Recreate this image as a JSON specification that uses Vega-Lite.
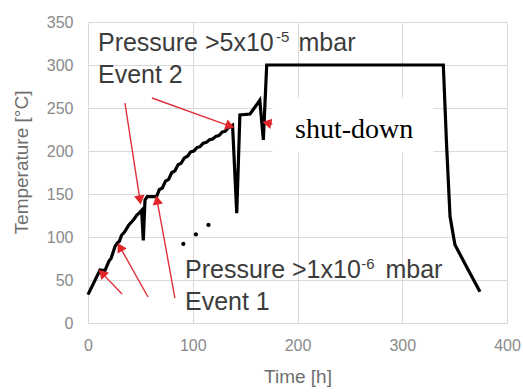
{
  "$schema": "https://vega.github.io/schema/vega-lite/v6.json",
  "width": 419,
  "height": 301,
  "autosize": {"type": "none"},
  "padding": {"left": 88, "top": 22, "right": 16, "bottom": 69},
  "background": "white",
  "config": {
    "view": {"stroke": null},
    "axis": {
      "grid": true,
      "gridColor": "#d9d9d9",
      "gridWidth": 1,
      "domain": false,
      "ticks": false,
      "labelFlush": false,
      "labelOverlap": false,
      "labelFont": "Liberation Sans",
      "labelFontSize": 16,
      "labelColor": "#8a8a8a",
      "titleFont": "Liberation Sans",
      "titleFontSize": 19,
      "titleFontWeight": "normal",
      "titleColor": "#6e6e6e"
    }
  },
  "datasets": {
    "curve": [
      {"t": 0, "temp": 33}, {"t": 11.5, "temp": 61.6}, {"t": 16.2, "temp": 61},
      {"t": 20, "temp": 72}, {"t": 22, "temp": 75}, {"t": 25.8, "temp": 89},
      {"t": 28, "temp": 93}, {"t": 30, "temp": 95}, {"t": 32, "temp": 102},
      {"t": 35, "temp": 106}, {"t": 37, "temp": 110}, {"t": 39, "temp": 114},
      {"t": 42, "temp": 118}, {"t": 44, "temp": 121}, {"t": 47, "temp": 126},
      {"t": 49, "temp": 128}, {"t": 51.2, "temp": 131}, {"t": 52.8, "temp": 96},
      {"t": 54.4, "temp": 143}, {"t": 56.6, "temp": 147}, {"t": 65.5, "temp": 147},
      {"t": 68, "temp": 155}, {"t": 71, "temp": 157}, {"t": 74, "temp": 165},
      {"t": 77, "temp": 167}, {"t": 80, "temp": 175}, {"t": 83, "temp": 177},
      {"t": 86, "temp": 184}, {"t": 89, "temp": 186}, {"t": 92, "temp": 192},
      {"t": 95, "temp": 194}, {"t": 98, "temp": 199}, {"t": 101, "temp": 200},
      {"t": 104, "temp": 204}, {"t": 107, "temp": 205}, {"t": 110, "temp": 209},
      {"t": 113, "temp": 210}, {"t": 116, "temp": 213}, {"t": 119, "temp": 214},
      {"t": 122, "temp": 217}, {"t": 125, "temp": 218}, {"t": 128, "temp": 222},
      {"t": 131, "temp": 223}, {"t": 134, "temp": 227}, {"t": 138, "temp": 230},
      {"t": 142, "temp": 127.6}, {"t": 145, "temp": 242}, {"t": 154.7, "temp": 243},
      {"t": 164, "temp": 259}, {"t": 167.4, "temp": 213}, {"t": 170.6, "temp": 300},
      {"t": 339.2, "temp": 300}, {"t": 342.4, "temp": 205}, {"t": 345.6, "temp": 124},
      {"t": 350.3, "temp": 91}, {"t": 362, "temp": 64}, {"t": 374.2, "temp": 36.4}
    ],
    "dots": [
      {"t": 91, "temp": 92}, {"t": 103, "temp": 103}, {"t": 115, "temp": 114}
    ],
    "arrows": [
      {"x0": 32.5, "y0": 33.7, "x1": 13.4, "y1": 58, "angle": 316},
      {"x0": 57.3, "y0": 30.2, "x1": 30.5, "y1": 88.4, "angle": 331},
      {"x0": 83, "y0": 29, "x1": 65.9, "y1": 143, "angle": 350},
      {"x0": 35.3, "y0": 255.8, "x1": 49.6, "y1": 143, "angle": 171},
      {"x0": 61, "y0": 261.6, "x1": 135.6, "y1": 229, "angle": 109},
      {"x0": 193.7, "y0": 227, "x1": 170.8, "y1": 232.6, "angle": 282}
    ],
    "box": [{"xa": 176, "xb": 330, "ya": 198, "yb": 262}],
    "labels": [
      {"x": 9.5, "y": 316.3, "text": "Pressure >5x10"},
      {"x": 201, "y": 316.3, "text": "mbar"},
      {"x": 9.5, "y": 279, "text": "Event 2"},
      {"x": 92.6, "y": 52.3, "text": "Pressure >1x10"},
      {"x": 284, "y": 52.3, "text": "mbar"},
      {"x": 92.6, "y": 15.1, "text": "Event 1"}
    ],
    "sups": [
      {"x": 179.5, "y": 326.7, "text": "-5"},
      {"x": 260.8, "y": 62.8, "text": "-6"}
    ],
    "serif": [{"x": 197.6, "y": 215.1, "text": "shut-down"}]
  },
  "layer": [
    {
      "data": {"name": "curve"},
      "mark": {"type": "line", "color": "black", "strokeWidth": 3.2, "strokeJoin": "miter"},
      "encoding": {
        "x": {"field": "t", "type": "quantitative", "scale": {"domain": [0, 400], "nice": false}, "axis": {"values": [0, 100, 200, 300, 400], "title": "Time [h]", "labelPadding": 14, "titlePadding": 14}},
        "y": {"field": "temp", "type": "quantitative", "scale": {"domain": [0, 350], "nice": false}, "axis": {"values": [0, 50, 100, 150, 200, 250, 300, 350], "title": "Temperature [°C]", "labelPadding": 15, "titleX": -67, "titleY": 140, "titleAngle": 270, "titleAlign": "center", "titleBaseline": "middle"}}
      }
    },
    {
      "data": {"name": "dots"},
      "mark": {"type": "point", "filled": true, "color": "black", "size": 18, "opacity": 1},
      "encoding": {
        "x": {"field": "t", "type": "quantitative"},
        "y": {"field": "temp", "type": "quantitative"}
      }
    },
    {
      "data": {"name": "arrows"},
      "mark": {"type": "rule", "color": "#e0303a", "strokeWidth": 1.4},
      "encoding": {
        "x": {"field": "x0", "type": "quantitative"},
        "y": {"field": "y0", "type": "quantitative"},
        "x2": {"field": "x1"},
        "y2": {"field": "y1"}
      }
    },
    {
      "data": {"name": "arrows"},
      "mark": {"type": "point", "shape": "triangle-up", "filled": true, "color": "#e0252b", "size": 110, "opacity": 1},
      "encoding": {
        "x": {"field": "x1", "type": "quantitative"},
        "y": {"field": "y1", "type": "quantitative"},
        "angle": {"field": "angle", "type": "quantitative", "scale": null}
      }
    },
    {
      "data": {"name": "box"},
      "mark": {"type": "rect", "color": "white", "opacity": 1},
      "encoding": {
        "x": {"field": "xa", "type": "quantitative"},
        "x2": {"field": "xb"},
        "y": {"field": "ya", "type": "quantitative"},
        "y2": {"field": "yb"}
      }
    },
    {
      "data": {"name": "labels"},
      "mark": {"type": "text", "font": "Liberation Sans", "fontSize": 25, "color": "#3c3c3c", "align": "left", "baseline": "alphabetic"},
      "encoding": {
        "x": {"field": "x", "type": "quantitative"},
        "y": {"field": "y", "type": "quantitative"},
        "text": {"field": "text"}
      }
    },
    {
      "data": {"name": "sups"},
      "mark": {"type": "text", "font": "Liberation Sans", "fontSize": 15, "color": "#3c3c3c", "align": "left", "baseline": "alphabetic"},
      "encoding": {
        "x": {"field": "x", "type": "quantitative"},
        "y": {"field": "y", "type": "quantitative"},
        "text": {"field": "text"}
      }
    },
    {
      "data": {"name": "serif"},
      "mark": {"type": "text", "font": "Liberation Serif", "fontSize": 28, "color": "black", "align": "left", "baseline": "alphabetic"},
      "encoding": {
        "x": {"field": "x", "type": "quantitative"},
        "y": {"field": "y", "type": "quantitative"},
        "text": {"field": "text"}
      }
    }
  ]
}
